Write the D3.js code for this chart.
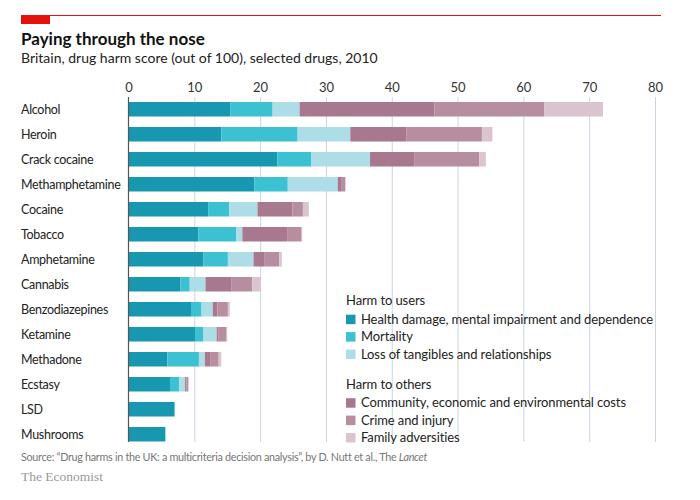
<!DOCTYPE html>
<html>
<head>
<meta charset="utf-8">
<script src="https://cdn.jsdelivr.net/npm/d3@7"></script>
<style>
  html, body { margin: 0; padding: 0; background: #fff; }
  svg { display: block; font-family: Lato, "Open Sans", sans-serif; }
</style>
</head>
<body>
<svg id="chart" width="700" height="500"></svg>
<script>
// ---- data ----
const drugs = ["Alcohol", "Heroin", "Crack cocaine", "Methamphetamine", "Cocaine", "Tobacco",
  "Amphetamine", "Cannabis", "Benzodiazepines", "Ketamine", "Methadone", "Ecstasy", "LSD", "Mushrooms"];
const healthDamage = [15.5, 14.1, 22.6, 19.1, 12.1, 10.6, 11.4, 7.9, 9.5, 10.1, 5.9, 6.3, 7.0, 5.6];
const mortality    = [6.4, 11.6, 5.2, 5.1, 3.2, 5.8, 3.7, 1.4, 1.6, 1.3, 4.8, 1.4, 0, 0];
const lossTangible = [4.1, 8.0, 8.9, 7.6, 4.3, 0.9, 3.9, 2.4, 1.7, 2.0, 0.9, 0.9, 0, 0];
const community    = [20.5, 8.5, 6.7, 0.5, 5.3, 6.8, 1.7, 3.9, 0.7, 0.3, 0.8, 0.2, 0, 0];
const crimeInjury  = [16.7, 11.5, 9.9, 0.6, 1.6, 2.2, 2.2, 3.2, 1.6, 1.2, 1.3, 0.3, 0, 0];
const family       = [8.9, 1.6, 1.0, 0.1, 0.9, 0.1, 0.4, 1.3, 0.3, 0.1, 0.4, 0.0, 0, 0];
const seriesNames = ["Health damage, mental impairment and dependence", "Mortality",
  "Loss of tangibles and relationships", "Community, economic and environmental costs",
  "Crime and injury", "Family adversities"];
const seriesColors = ["#1898b0", "#3cc1d3", "#addee7", "#a8788e", "#b78da0", "#dbc4cf"];
const legendGroups = ["Harm to users", "Harm to others"];
const xTicks = [0, 10, 20, 30, 40, 50, 60, 70, 80];

// ---- build table ----
const seriesArrays = [healthDamage, mortality, lossTangible, community, crimeInjury, family];
const table = drugs.map((d, i) => {
  const row = { drug: d };
  seriesNames.forEach((s, j) => row[s] = seriesArrays[j][i]);
  return row;
});
const stacked = d3.stack().keys(seriesNames)(table);

const svg = d3.select("#chart");

// header
svg.append("line").attr("x1", 21).attr("x2", 661).attr("y1", 15.5).attr("y2", 15.5)
  .attr("stroke", "#e3120b").attr("stroke-width", 1);
svg.append("rect").attr("x", 21).attr("y", 15).attr("width", 29).attr("height", 9).attr("fill", "#e3120b");
svg.append("text").attr("x", 21).attr("y", 44.5).text("Paying through the nose")
  .attr("font-size", 17).attr("font-weight", 700).attr("fill", "#111");
svg.append("text").attr("x", 21).attr("y", 63).text("Britain, drug harm score (out of 100), selected drugs, 2010")
  .attr("font-size", 14).attr("fill", "#222");

// scales
const x = d3.scaleLinear().domain([0, 80]).range([128.5, 655]);
const y = d3.scaleBand().domain(drugs).range([96.75, 446.75]).paddingInner(0.42).paddingOuter(0.21);

// gridlines + ticks
const xAxis = d3.axisTop(x).tickValues(xTicks).tickSize(-345).tickPadding(5).tickFormat(d3.format("d"));
const gx = svg.append("g").attr("transform", "translate(0,97)").call(xAxis);
gx.select(".domain").remove();
gx.selectAll(".tick line").attr("stroke", "#c9d6df").attr("stroke-width", 1);
gx.selectAll(".tick text").attr("font-size", 13).attr("fill", "#333").attr("font-family", "Lato, sans-serif");
gx.selectAll(".tick").filter(d => d === 0).select("line").remove();

// bars
svg.append("g").selectAll("g").data(stacked).join("g")
  .attr("fill", (d, i) => seriesColors[i])
  .selectAll("rect").data(d => d).join("rect")
  .attr("x", d => x(d[0]))
  .attr("width", d => Math.max(0, x(d[1]) - x(d[0])))
  .attr("y", d => y(d.data.drug))
  .attr("height", y.bandwidth());

// y axis line
svg.append("line").attr("x1", x(0)).attr("x2", x(0)).attr("y1", 97).attr("y2", 442)
  .attr("stroke", "#555").attr("stroke-width", 1.2);

// category labels
svg.append("g").selectAll("text").data(drugs).join("text")
  .attr("x", 21).attr("y", d => y(d) + y.bandwidth() / 2)
  .attr("dy", "0.35em").attr("font-size", 12.5).attr("letter-spacing", -0.3)
  .attr("fill", "#222").text(d => d);

// legend
const legend = svg.append("g").attr("font-size", 13).attr("letter-spacing", -0.1).attr("fill", "#222");
const groupY = [300.5, 384];
legendGroups.forEach((g, gi) => {
  legend.append("text").attr("x", 346).attr("y", groupY[gi]).attr("dy", "0.35em").text(g);
  for (let k = 0; k < 3; k++) {
    const idx = gi * 3 + k;
    const cy = groupY[gi] + 18.7 + k * 17.4;
    legend.append("rect").attr("x", 346).attr("y", cy - 4.5).attr("width", 9.5).attr("height", 9.5)
      .attr("fill", seriesColors[idx]);
    legend.append("text").attr("x", 361).attr("y", cy).attr("dy", "0.35em").text(seriesNames[idx]);
  }
});

// source
const src = svg.append("text").attr("x", 21).attr("y", 457.5).attr("dy", "0.35em")
  .attr("font-size", 10.8).attr("letter-spacing", -0.3).attr("fill", "#777");
src.append("tspan").text("Source: \u201CDrug harms in the UK: a multicriteria decision analysis\u201D, by D. Nutt et al., The ");
src.append("tspan").attr("font-style", "italic").text("Lancet");
svg.append("text").attr("x", 21).attr("y", 476).attr("dy", "0.35em")
  .attr("font-family", "'Liberation Serif', 'DejaVu Serif', serif").attr("font-size", 13.5)
  .attr("fill", "#999").text("The Economist");
</script>
</body>
</html>
